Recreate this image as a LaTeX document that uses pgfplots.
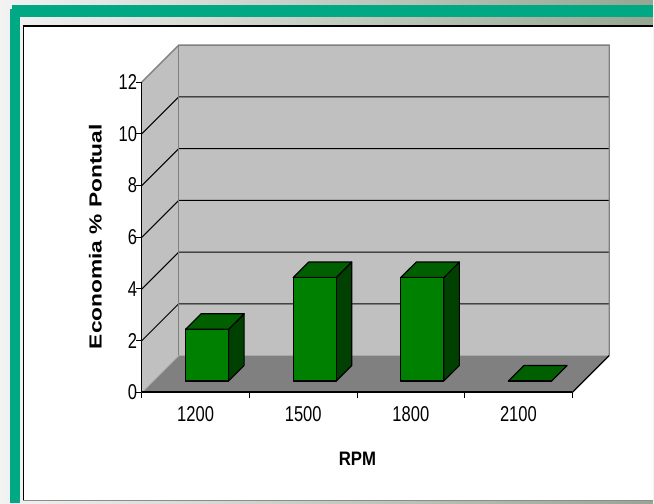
\documentclass[border=0pt]{standalone}
\usepackage{pgfplots}
\pgfplotsset{compat=1.18}
\usepackage{fontspec}
\setmainfont{Liberation Sans}
\newfontfamily\tickfont[FakeStretch=0.77]{Liberation Sans}
\newfontfamily\rpmfont[FakeStretch=0.86]{Liberation Sans}
\newfontfamily\ylabfont[FakeStretch=1.3]{Liberation Sans}
\definecolor{teal1}{RGB}{0,168,132}
\definecolor{wallc}{RGB}{192,192,192}
\definecolor{floorc}{RGB}{128,128,128}
\definecolor{edgec}{RGB}{128,128,128}
\definecolor{bfront}{RGB}{0,128,0}
\definecolor{btop}{RGB}{0,96,0}
\definecolor{bside}{RGB}{0,64,0}
\definecolor{bgR}{RGB}{150,166,146}
\definecolor{bgL}{RGB}{242,242,242}

% one 3-D bar: #1 = category index, #2 = value
\newcommand\cuboid[2]{%
  \pgfmathsetmacro\xl{#1+0.407}%
  \pgfmathsetmacro\xr{#1+0.807}%
  \pgfmathsetmacro\xlb{\xl+0.144}%
  \pgfmathsetmacro\xrb{\xr+0.144}%
  \pgfmathsetmacro\yb{0.444}%
  \pgfmathsetmacro\yt{0.444+#2}%
  \pgfmathsetmacro\ybb{\yb+0.598}%
  \pgfmathsetmacro\ytb{\yt+0.598}%
  \addplot[fill=bside,draw=black,line width=1.2bp,line join=round]
    coordinates {(\xr,\yb) (\xrb,\ybb) (\xrb,\ytb) (\xr,\yt)} -- cycle;
  \addplot[fill=btop,draw=black,line width=1.2bp,line join=round]
    coordinates {(\xl,\yt) (\xr,\yt) (\xrb,\ytb) (\xlb,\ytb)} -- cycle;
  \addplot[fill=bfront,draw=black,line width=1.2bp,line join=round]
    coordinates {(\xl,\yb) (\xr,\yb) (\xr,\yt) (\xl,\yt)} -- cycle;
}

\begin{document}
\begin{tikzpicture}[x=1bp,y=1bp]
\shade[left color=bgL, right color=bgR] (0,0) rectangle (654,504);
\fill[teal1] (12.5,499) rectangle (654,487);
\fill[teal1] (10,495) rectangle (20,0);
\fill[white] (23,479) rectangle (654,2.5);
\draw[black, line width=1.8bp] (23.5,478.2) -- (654,478.2);
\draw[black, line width=1.8bp] (23.5,479) -- (23.5,2.5);
\draw[black!45, line width=1bp] (23,2.5) -- (654,2.5);

\begin{axis}[
  at={(142bp,111bp)}, anchor=south west,
  scale only axis, width=468bp, height=347.8bp,
  xmin=0, xmax=4.3433, ymin=0, ymax=13.4286,
  axis line style={draw=none},
  clip=false,
  xtick={0,1,2,3,4}, x tick label as interval,
  xticklabels={\mbox{1200},\mbox{1500},\mbox{1800},\mbox{2100}},
  ytick={0,2,4,6,8,10,12},
  yticklabels={\mbox{0},\mbox{2},\mbox{4},\mbox{6},\mbox{8},\mbox{10},\mbox{12}},
  tick align=outside, tick pos=left,
  major tick length=5.5bp,
  every tick/.style={black, line width=1bp},
  ticklabel style={font=\tickfont\fontsize{21.5bp}{25bp}\selectfont, text=black},
  yticklabel style={anchor=east, inner sep=0pt, xshift=1bp},
  xticklabel style={anchor=north, inner sep=0pt, yshift=-8bp},
  xlabel={RPM},
  ylabel={Economia \% Pontual},
  every axis x label/.style={at={(axis description cs:0.4615,-0.1912)}, anchor=center,
    font=\rpmfont\bfseries\fontsize{19.5bp}{22bp}\selectfont},
  every axis y label/.style={at={(axis description cs:-0.0995,0.4485)}, anchor=center, rotate=90,
    font=\ylabfont\bfseries\fontsize{17.5bp}{21bp}\selectfont},
]
% walls and floor
\addplot[fill=wallc, draw=none] coordinates {(0,0) (0,12) (0.3433,13.4286) (0.3433,1.4286)} -- cycle;
\addplot[fill=wallc, draw=none] coordinates {(0.3433,1.4286) (4.3433,1.4286) (4.3433,13.4286) (0.3433,13.4286)} -- cycle;
\addplot[fill=floorc, draw=none] coordinates {(0,0) (4,0) (4.3433,1.4286) (0.3433,1.4286)} -- cycle;
% gridlines
\addplot[black, line width=1bp] coordinates {(0,2) (0.3433,3.4286) (4.3433,3.4286)};
\addplot[black, line width=1bp] coordinates {(0,4) (0.3433,5.4286) (4.3433,5.4286)};
\addplot[black, line width=1bp] coordinates {(0,6) (0.3433,7.4286) (4.3433,7.4286)};
\addplot[black, line width=1bp] coordinates {(0,8) (0.3433,9.4286) (4.3433,9.4286)};
\addplot[black, line width=1bp] coordinates {(0,10) (0.3433,11.4286) (4.3433,11.4286)};
% wall edges
\addplot[edgec, line width=1.3bp] coordinates {(0,12) (0.3433,13.4286) (4.3433,13.4286) (4.3433,1.4286)};
\addplot[edgec, line width=1bp] coordinates {(0.3433,1.4286) (0.3433,13.4286)};
\addplot[edgec!60, line width=0.8bp] coordinates {(0,0) (0.3433,1.4286)};
% front axes
\addplot[black, line width=1.3bp] coordinates {(0,0) (0,12)};
\addplot[black, line width=2bp] coordinates {(0,0) (4,0)};
\addplot[black, line width=1.3bp] coordinates {(4,0) (4.3433,1.4286)};
% bars (RPM category, Economia %)
\cuboid{0}{2}
\cuboid{1}{4}
\cuboid{2}{4}
\cuboid{3}{0}
\end{axis}
\end{tikzpicture}
\end{document}
